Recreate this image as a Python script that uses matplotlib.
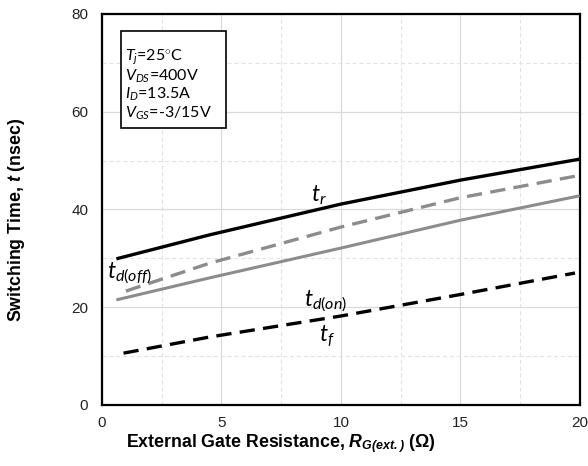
import matplotlib
matplotlib.use("Agg")
import matplotlib.pyplot as plt
from matplotlib.patches import Rectangle
from matplotlib.ticker import MultipleLocator

plt.rcParams["mathtext.fontset"] = "custom"
plt.rcParams["mathtext.rm"] = "Lato"
plt.rcParams["mathtext.it"] = "Lato:italic"
plt.rcParams["mathtext.bf"] = "Liberation Sans:bold"
plt.rcParams["mathtext.bfit"] = "Liberation Sans:bold:italic"
plt.rcParams["lines.scale_dashes"] = False

# Switching time vs. external gate resistance
rg_tr = [0.6, 4.5, 10.0, 15.0, 20.0]
t_r = [29.9, 34.8, 41.1, 46.0, 50.3]

rg_tdoff = [1.0, 4.5, 10.0, 15.0, 19.8]
t_d_off = [23.3, 29.0, 36.4, 42.4, 46.8]

rg_tdon = [0.6, 4.5, 10.0, 15.0, 20.0]
t_d_on = [21.5, 26.0, 32.1, 37.8, 42.8]

rg_tf = [0.9, 4.5, 10.0, 15.0, 19.8]
t_f = [10.6, 13.9, 18.2, 22.6, 27.0]

x_ticks = [0, 5, 10, 15, 20]
y_ticks = [0, 20, 40, 60, 80]

conditions = [r"$T_j$=25$^{\circ}$C", r"$V_{DS}$=400V", r"$I_D$=13.5A", r"$V_{GS}$=-3/15V"]

fig = plt.figure(figsize=(5.88, 4.66), dpi=100)
ax = fig.add_axes([0.1735, 0.131, 0.8125, 0.839])

gray = "#8c8c8c"
ax.plot(rg_tr, t_r, color="black", lw=2.4, solid_capstyle="butt", zorder=3)
ax.plot(rg_tdoff, t_d_off, color=gray, lw=2.4, dashes=(11, 6), zorder=3)
ax.plot(rg_tdon, t_d_on, color=gray, lw=2.2, solid_capstyle="butt", zorder=3)
ax.plot(rg_tf, t_f, color="black", lw=2.4, dashes=(11, 6), zorder=3)

ax.set_xlim(0, 20)
ax.set_ylim(0, 80)
ax.set_xticks(x_ticks)
ax.set_yticks(y_ticks)
ax.xaxis.set_minor_locator(MultipleLocator(2.5))
ax.yaxis.set_minor_locator(MultipleLocator(10))
ax.grid(True, which="major", color="#d9d9d9", lw=0.9)
ax.grid(True, which="minor", color="#e3e3e3", lw=0.8, ls=(0, (3, 2)))
ax.set_axisbelow(True)
ax.tick_params(which="both", length=0, labelsize=11, colors="#222222")
ax.tick_params(axis="x", pad=8)
ax.tick_params(axis="y", pad=10)
for lbl in ax.get_xticklabels() + ax.get_yticklabels():
    lbl.set_fontfamily("Liberation Sans")
for sp in ax.spines.values():
    sp.set_linewidth(1.6)
    sp.set_color("black")

fig.text(281 / 588, 1 - 447 / 466,
         r"External Gate Resistance, $\mathbfit{R}_{\mathbfit{G(ext.)}}$ ($\mathbf{\Omega}$)",
         fontsize=12.8, fontweight="bold", family="Liberation Sans",
         ha="center", va="baseline")
fig.text(17 / 588, 1 - 220 / 466, r"Switching Time, $\mathbfit{t}$ (nsec)",
         fontsize=12.8, fontweight="bold", family="Liberation Sans",
         rotation=90, ha="center", va="center")

# Curve labels
lab_kw = dict(fontsize=16.5, family="Lato", ha="center", va="center", zorder=4)
ax.text(9.1, 43.0, r"$t_r$", **lab_kw)
ax.text(1.15, 27.0, r"$t_{d(off)}$", **lab_kw)
ax.text(9.35, 21.2, r"$t_{d(on)}$", **lab_kw)
ax.text(9.4, 14.0, r"$t_f$", **lab_kw)

# Test conditions box
ax.add_patch(Rectangle((0.8, 56.6), 4.4, 19.9, fc="white", ec="black",
                       lw=1.2, zorder=5))
ax.text(0.96, 73.2, "\n".join(conditions), fontsize=11.5, family="Lato",
        ha="left", va="top", linespacing=1.07, zorder=6)

fig.savefig("out.png", dpi=100)
